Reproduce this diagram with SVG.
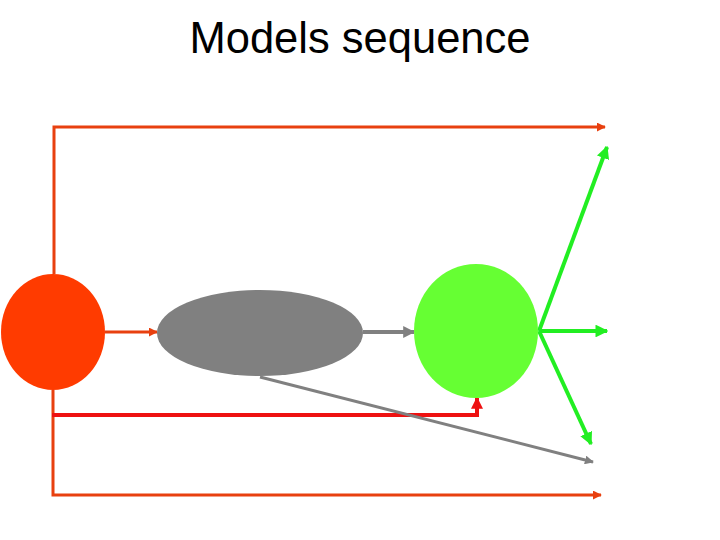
<svg xmlns="http://www.w3.org/2000/svg" width="720" height="540" viewBox="0 0 720 540">
<style>
.title{font-family:"Liberation Sans",Arial,sans-serif;font-size:43.5px;fill:#000}
.or{stroke:#E8400F;stroke-width:3;fill:none}
.rd{stroke:#EE1111;stroke-width:4;fill:none}
.gy{stroke:#808080;stroke-width:4;fill:none}
.gn{stroke:#22EE22;stroke-width:4;fill:none}
</style>
<defs>
<marker id="mOr" viewBox="0 0 10 10" refX="9" refY="5" markerWidth="3" markerHeight="3" orient="auto" markerUnits="strokeWidth"><path d="M0,0 L10,5 L0,10 z" fill="#E8400F"/></marker>
<marker id="mRd" viewBox="0 0 10 10" refX="9" refY="5" markerWidth="3" markerHeight="3" orient="auto" markerUnits="strokeWidth"><path d="M0,0 L10,5 L0,10 z" fill="#EE1111"/></marker>
<marker id="mGy" viewBox="0 0 10 10" refX="9" refY="5" markerWidth="3" markerHeight="3" orient="auto" markerUnits="strokeWidth"><path d="M0,0 L10,5 L0,10 z" fill="#808080"/></marker>
<marker id="mGn" viewBox="0 0 10 10" refX="9" refY="5" markerWidth="3.2" markerHeight="3.2" orient="auto" markerUnits="strokeWidth"><path d="M0,0 L10,5 L0,10 z" fill="#22EE22"/></marker>
</defs>
<rect width="720" height="540" fill="#fff"/>
<text class="title" x="360" y="53" text-anchor="middle">Models sequence</text>
<g id="connectors">
<path class="or" d="M54,274 V127 H605" marker-end="url(#mOr)"/>
<path class="or" d="M105,332 H157" marker-end="url(#mOr)"/>
<path class="or" d="M53,390 V495 H601" marker-end="url(#mOr)"/>
<path class="rd" d="M52,415 H477 V398" marker-end="url(#mRd)"/>
<path class="gy" d="M363,332 H414" marker-end="url(#mGy)"/>
<path class="gy" d="M260,377 L593,462" marker-end="url(#mGy)" style="stroke-width:3"/>
<path class="gn" d="M539,331 L607,147" marker-end="url(#mGn)"/>
<path class="gn" d="M539,331 H607" marker-end="url(#mGn)"/>
<path class="gn" d="M539,331 L591,444" marker-end="url(#mGn)"/>
</g>
<g id="node-red"><ellipse cx="53" cy="332" rx="52" ry="58" fill="#FF3B00"/></g>
<g id="node-gray"><ellipse cx="260" cy="333" rx="103" ry="43" fill="#808080"/></g>
<g id="node-green"><ellipse cx="476" cy="331" rx="62" ry="67" fill="#66FF33"/></g>
</svg>
